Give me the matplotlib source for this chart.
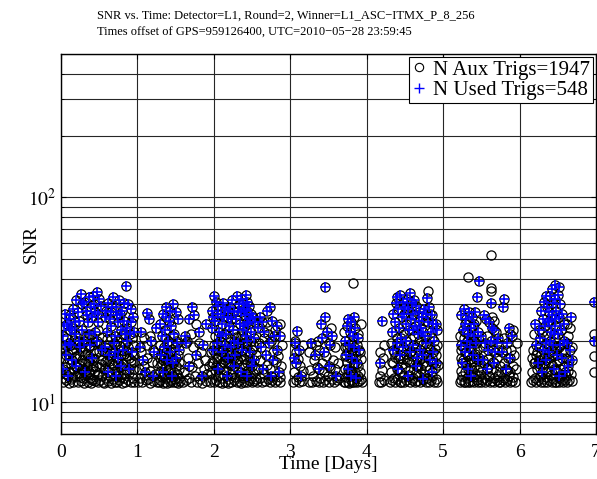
import matplotlib
matplotlib.use('Agg')
from matplotlib import pyplot as plt
from matplotlib.lines import Line2D
from matplotlib.ticker import NullFormatter

plt.rcParams['font.family'] = ['Liberation Serif', 'DejaVu Serif']
plt.rcParams['mathtext.fontset'] = 'stix'

title_1 = 'SNR vs. Time: Detector=L1, Round=2, Winner=L1_ASC\u2212ITMX_P_8_256'
title_2 = 'Times offset of GPS=959126400, UTC=2010\u221205\u221228 23:59:45'
n_aux = 1947
n_used = 548
x_ticks = [0, 1, 2, 3, 4, 5, 6, 7]

# triggers used by the veto round (day, snr)
used_trigs = [
    # 0.0 - 0.55
    (0.05, 27.0), (0.12, 26.5), (0.20, 31.5), (0.26, 33.8), (0.30, 31.0), (0.36, 32.5), (0.42, 33.0),
    (0.47, 34.5), (0.50, 32.0), (0.52, 29.5), (0.08, 24.0), (0.15, 23.0), (0.22, 27.5), (0.33, 28.0),
    (0.40, 26.0), (0.45, 27.5), (0.03, 21.0), (0.10, 19.5), (0.18, 21.5), (0.28, 22.5), (0.35, 24.5),
    (0.44, 22.0), (0.49, 24.5), (0.06, 17.0), (0.14, 16.0), (0.25, 18.5), (0.38, 19.0), (0.47, 20.0),
    (0.02, 14.5), (0.09, 13.5), (0.20, 15.0), (0.31, 14.0), (0.41, 16.5), (0.53, 18.0), (0.12, 22.5),
    (0.30, 20.0), (0.24, 25.0), (0.39, 29.0), (0.16, 28.5), (0.05, 19.0),
    (0.04, 23.5), (0.11, 25.5), (0.18, 24.5), (0.27, 30.0), (0.34, 26.5), (0.43, 30.0), (0.48, 27.0),
    (0.23, 20.0), (0.37, 21.5), (0.13, 19.0),
    # 0.55 - 0.97
    (0.58, 26.0), (0.62, 30.5), (0.65, 27.5), (0.68, 32.5), (0.72, 29.0), (0.76, 31.5), (0.80, 28.0),
    (0.85, 37.0), (0.88, 30.0), (0.92, 28.5), (0.94, 26.0), (0.60, 22.0), (0.66, 23.5), (0.70, 21.0),
    (0.74, 24.5), (0.78, 22.5), (0.83, 25.0), (0.87, 23.0), (0.90, 21.5), (0.57, 18.5), (0.63, 17.0),
    (0.69, 19.5), (0.75, 16.5), (0.81, 18.0), (0.86, 20.0), (0.93, 17.5), (0.61, 14.0), (0.72, 13.5),
    (0.79, 15.0), (0.89, 14.5), (0.95, 22.0), (0.64, 25.5),
    (0.59, 28.0), (0.67, 29.0), (0.73, 26.5), (0.77, 27.0), (0.82, 30.5), (0.91, 24.5), (0.71, 17.5),
    (0.84, 21.5),
    # 1.0 - 1.26
    (1.03, 18.5), (1.07, 16.0), (1.12, 27.4), (1.15, 25.5), (1.18, 20.0), (1.22, 17.5), (1.10, 14.0),
    (1.20, 13.5), (1.05, 22.0), (1.24, 23.0),
    # 1.28 - 1.56
    (1.30, 24.0), (1.34, 27.0), (1.38, 29.0), (1.42, 28.0), (1.46, 30.0), (1.50, 27.5), (1.53, 25.5),
    (1.32, 21.0), (1.36, 22.5), (1.40, 20.0), (1.44, 23.5), (1.48, 21.5), (1.52, 19.5), (1.31, 17.0),
    (1.35, 18.5), (1.39, 16.0), (1.43, 17.5), (1.47, 15.5), (1.51, 16.5), (1.55, 18.0), (1.33, 14.0),
    (1.45, 13.5), (1.41, 25.0), (1.37, 26.0),
    # 1.58 - 1.93
    (1.62, 21.0), (1.64, 19.5), (1.72, 29.0), (1.74, 26.5), (1.67, 25.5), (1.80, 22.0), (1.86, 19.0),
    (1.90, 24.0), (1.68, 15.0), (1.84, 13.5), (1.77, 17.0),
    # 1.95 - 2.56
    (1.97, 28.0), (2.00, 33.0), (2.03, 31.0), (2.06, 29.5), (2.09, 27.0), (2.12, 30.5), (2.15, 28.5),
    (2.18, 26.0), (2.21, 29.0), (2.24, 31.5), (2.27, 27.5), (2.30, 33.0), (2.33, 30.0), (2.36, 32.0),
    (2.39, 28.5), (2.42, 33.5), (2.44, 31.0), (2.46, 29.5), (2.48, 27.0), (2.51, 26.0), (2.54, 24.5),
    (1.98, 23.0), (2.02, 25.0), (2.07, 22.0), (2.11, 24.0), (2.16, 21.5), (2.20, 23.5), (2.25, 22.5),
    (2.29, 25.5), (2.34, 24.0), (2.38, 22.5), (2.41, 26.5), (2.45, 24.0), (2.49, 22.0), (2.53, 20.5),
    (1.99, 18.0), (2.04, 19.5), (2.10, 17.5), (2.14, 19.0), (2.19, 16.5), (2.23, 18.5), (2.28, 17.0),
    (2.32, 19.5), (2.37, 18.0), (2.43, 20.0), (2.47, 17.5), (2.52, 16.0), (2.05, 14.5), (2.17, 13.5),
    (2.26, 15.0), (2.35, 14.0), (2.44, 13.5), (2.50, 15.0), (2.40, 23.5), (2.42, 21.0), (2.44, 28.0),
    (1.99, 26.0), (2.05, 27.0), (2.13, 26.0), (2.19, 28.0), (2.22, 25.5), (2.31, 28.0), (2.35, 27.5),
    (2.38, 30.0), (2.43, 24.5), (2.47, 25.5), (2.26, 20.0), (2.09, 21.0),
    # 2.56 - 2.9
    (2.58, 23.0), (2.60, 26.0), (2.63, 24.5), (2.66, 22.0), (2.70, 28.0), (2.73, 29.0), (2.76, 25.0),
    (2.79, 21.0), (2.83, 23.5), (2.86, 21.0), (2.62, 18.5), (2.68, 17.0), (2.72, 19.5), (2.78, 16.0),
    (2.82, 18.0), (2.64, 14.5), (2.75, 13.5), (2.85, 14.0),
    # 3.03 - 3.19
    (3.09, 22.3), (3.06, 19.5), (3.12, 18.0), (3.08, 15.5), (3.14, 13.5), (3.05, 16.5),
    # 3.23 - 3.65
    (3.27, 19.5), (3.32, 17.0), (3.40, 24.0), (3.45, 26.0), (3.46, 36.4), (3.42, 20.5), (3.48, 22.0),
    (3.52, 19.0), (3.55, 21.0), (3.38, 14.5), (3.50, 15.0), (3.60, 13.5), (3.44, 17.5),
    # 3.69 - 3.95
    (3.71, 20.0), (3.74, 23.5), (3.76, 25.5), (3.78, 22.0), (3.80, 24.5), (3.82, 21.0), (3.85, 23.0),
    (3.88, 20.5), (3.90, 18.0), (3.73, 17.0), (3.77, 19.0), (3.81, 16.5), (3.84, 18.5), (3.87, 15.5),
    (3.79, 13.5), (3.75, 14.5), (3.83, 26.0), (3.86, 13.2),
    # 4.13 - 4.27
    (4.20, 25.0), (4.18, 15.5),
    # 4.3 - 4.93
    (4.35, 27.0), (4.38, 30.5), (4.40, 32.5), (4.44, 33.5), (4.47, 31.0), (4.50, 29.0), (4.53, 32.0),
    (4.56, 34.0), (4.59, 30.5), (4.62, 31.5), (4.65, 29.5), (4.68, 27.5), (4.72, 26.0), (4.75, 28.5),
    (4.79, 32.3), (4.82, 29.0), (4.86, 26.5), (4.90, 24.0), (4.33, 22.0), (4.37, 24.5), (4.42, 23.0),
    (4.46, 26.0), (4.51, 24.0), (4.55, 22.5), (4.58, 25.5), (4.63, 23.5), (4.67, 21.5), (4.71, 23.0),
    (4.76, 21.0), (4.80, 24.5), (4.84, 22.0), (4.88, 20.0), (4.92, 22.5), (4.34, 18.0), (4.39, 19.5),
    (4.43, 17.0), (4.48, 18.5), (4.52, 20.0), (4.57, 17.5), (4.61, 19.0), (4.66, 16.5), (4.70, 18.0),
    (4.74, 17.0), (4.78, 19.5), (4.83, 16.0), (4.87, 17.5), (4.91, 15.5), (4.41, 14.5), (4.54, 13.5),
    (4.64, 15.0), (4.73, 13.0), (4.85, 14.0),
    (4.41, 28.5), (4.49, 27.0), (4.54, 28.5), (4.61, 27.0), (4.69, 25.0), (4.77, 27.0), (4.45, 20.5),
    (4.60, 22.5), (4.73, 22.0), (4.87, 24.0),
    # 5.22 - 5.48
    (5.47, 39.0), (5.44, 32.8), (5.24, 26.5), (5.27, 28.5), (5.30, 25.5), (5.34, 27.5), (5.38, 26.0),
    (5.41, 24.0), (5.26, 22.5), (5.29, 24.0), (5.33, 21.5), (5.36, 23.0), (5.40, 21.0), (5.45, 22.0),
    (5.23, 19.0), (5.28, 17.5), (5.31, 20.0), (5.35, 18.5), (5.39, 17.0), (5.43, 19.5), (5.25, 15.5),
    (5.32, 14.5), (5.37, 13.5), (5.46, 16.0), (5.42, 27.5),
    # 5.48 - 5.74
    (5.62, 30.4), (5.53, 26.5), (5.56, 25.5), (5.60, 24.5), (5.64, 23.0), (5.67, 22.5), (5.50, 21.0),
    (5.55, 19.5), (5.59, 18.0), (5.63, 20.0), (5.68, 17.5), (5.70, 19.5), (5.52, 16.0), (5.58, 14.5),
    (5.66, 15.5), (5.72, 20.5),
    # 5.74 - 5.97
    (5.80, 32.0), (5.78, 29.0), (5.86, 23.0), (5.90, 21.0), (5.84, 19.5), (5.77, 17.5), (5.88, 16.5),
    (5.82, 14.5),
    # 6.14 - 6.70
    (6.47, 37.5), (6.52, 36.5), (6.43, 35.5), (6.40, 33.0), (6.50, 33.5), (6.32, 31.0), (6.53, 30.0),
    (6.36, 29.0), (6.44, 30.5), (6.55, 27.0), (6.67, 26.0), (6.38, 27.5), (6.42, 26.5), (6.30, 25.5),
    (6.48, 28.0), (6.20, 24.0), (6.25, 22.5), (6.33, 23.5), (6.37, 24.5), (6.41, 22.0), (6.46, 23.5),
    (6.50, 21.5), (6.54, 22.5), (6.58, 20.0), (6.62, 19.5), (6.66, 18.0), (6.22, 19.0), (6.27, 20.5),
    (6.31, 18.0), (6.35, 19.5), (6.39, 17.5), (6.44, 19.0), (6.49, 17.0), (6.56, 16.5), (6.63, 15.0),
    (6.68, 16.0), (6.24, 15.5), (6.29, 14.0), (6.34, 16.0), (6.45, 14.5), (6.52, 13.5), (6.60, 14.0),
    (6.40, 20.0), (6.47, 25.5),
    (6.35, 33.0), (6.46, 32.0), (6.39, 25.0), (6.51, 26.0), (6.58, 24.0), (6.28, 28.0), (6.45, 21.5),
    (6.53, 19.0),
    # right edge
    (6.98, 30.7), (6.98, 20.0),
]

# aux triggers that were not used (day, snr)
other_trigs = [
    # 0.0 - 0.55
    (0.02, 12.5), (0.04, 13.2), (0.05, 14.8), (0.07, 12.8), (0.08, 15.6), (0.10, 12.4), (0.11, 14.1),
    (0.13, 13.0), (0.14, 17.5), (0.16, 12.6), (0.17, 14.6), (0.19, 13.4), (0.20, 16.8), (0.22, 12.5),
    (0.23, 13.9), (0.24, 15.2), (0.26, 12.7), (0.27, 14.3), (0.28, 16.0), (0.29, 13.1), (0.30, 12.4),
    (0.32, 15.5), (0.33, 13.6), (0.34, 17.2), (0.35, 12.6), (0.36, 14.0), (0.37, 15.8), (0.38, 13.2),
    (0.39, 12.4), (0.40, 14.6), (0.42, 13.0), (0.43, 16.2), (0.44, 12.7), (0.45, 14.2), (0.46, 15.0),
    (0.48, 12.5), (0.49, 13.7), (0.50, 17.8), (0.51, 12.9), (0.52, 15.3), (0.54, 13.4), (0.55, 12.6),
    (0.03, 18.5), (0.06, 20.5), (0.09, 17.2), (0.12, 19.0), (0.15, 18.2), (0.18, 16.5), (0.21, 19.8),
    (0.25, 21.5), (0.27, 17.8), (0.29, 19.5), (0.31, 17.0), (0.33, 21.0), (0.36, 18.8), (0.38, 16.4),
    (0.41, 20.5), (0.43, 18.0), (0.46, 17.4), (0.48, 22.5), (0.51, 19.2), (0.53, 16.0), (0.07, 13.8),
    (0.19, 14.9), (0.26, 13.3), (0.34, 14.7), (0.41, 12.9), (0.47, 13.6), (0.23, 17.0), (0.11, 16.3),
    (0.04, 16.5), (0.08, 18.8), (0.13, 15.4), (0.17, 20.2), (0.21, 14.8), (0.24, 19.3), (0.28, 14.6),
    (0.32, 18.4), (0.35, 15.9), (0.39, 21.2), (0.42, 15.0), (0.45, 19.6), (0.50, 14.9), (0.53, 20.8),
    (0.15, 13.3), (0.37, 13.7),
    # 0.55 - 0.97
    (0.56, 12.4), (0.57, 14.5), (0.59, 13.1), (0.60, 16.0), (0.62, 12.7), (0.63, 14.8), (0.64, 13.5),
    (0.66, 12.4), (0.67, 15.5), (0.68, 13.0), (0.70, 12.6), (0.71, 14.2), (0.72, 16.4), (0.73, 12.5),
    (0.74, 13.6), (0.76, 12.8), (0.77, 14.9), (0.78, 13.3), (0.80, 12.4), (0.81, 15.3), (0.82, 13.8),
    (0.84, 12.6), (0.85, 14.4), (0.86, 16.8), (0.88, 12.9), (0.89, 13.9), (0.91, 12.5), (0.92, 15.6),
    (0.94, 13.2), (0.95, 12.6), (0.96, 14.6), (0.58, 17.5), (0.61, 19.0), (0.65, 20.5), (0.67, 18.0),
    (0.71, 17.5), (0.73, 19.8), (0.77, 18.8), (0.79, 20.8), (0.82, 17.2), (0.84, 19.3), (0.88, 18.5),
    (0.91, 16.0), (0.94, 19.0), (0.96, 17.0), (0.69, 15.2), (0.75, 14.0), (0.83, 13.1),
    (0.57, 15.8), (0.60, 20.3), (0.63, 15.9), (0.66, 16.8), (0.70, 19.0), (0.74, 15.7), (0.78, 17.0),
    (0.81, 21.5), (0.85, 17.8), (0.89, 16.5), (0.93, 20.5), (0.96, 15.8),
    # 1.0 - 1.26
    (1.01, 12.6), (1.02, 14.5), (1.04, 13.2), (1.06, 12.5), (1.08, 15.0), (1.09, 13.6), (1.11, 12.8),
    (1.13, 16.5), (1.14, 13.0), (1.16, 12.4), (1.17, 14.2), (1.19, 15.8), (1.21, 12.7), (1.23, 13.8),
    (1.25, 12.5), (1.05, 17.5), (1.13, 19.0), (1.20, 18.0), (1.08, 20.5), (1.17, 21.0), (1.26, 15.5),
    # 1.28 - 1.56
    (1.28, 12.5), (1.29, 14.0), (1.30, 12.8), (1.31, 15.2), (1.32, 13.3), (1.33, 12.4), (1.34, 16.0),
    (1.35, 13.7), (1.36, 12.6), (1.37, 14.8), (1.38, 13.1), (1.39, 12.4), (1.40, 15.5), (1.41, 13.9),
    (1.42, 12.6), (1.43, 14.5), (1.44, 12.9), (1.45, 16.3), (1.46, 13.4), (1.47, 12.5), (1.48, 14.1),
    (1.49, 13.0), (1.50, 15.0), (1.51, 12.6), (1.52, 13.8), (1.53, 12.4), (1.54, 14.6), (1.55, 13.2),
    (1.56, 12.7), (1.30, 19.0), (1.33, 18.0), (1.36, 20.5), (1.39, 19.2), (1.42, 17.8), (1.45, 19.5),
    (1.49, 18.5), (1.53, 17.0), (1.38, 17.5), (1.47, 21.0),
    (1.29, 16.5), (1.32, 15.6), (1.35, 16.8), (1.40, 17.0), (1.44, 15.8), (1.48, 16.0), (1.51, 20.0),
    (1.55, 15.8),
    # 1.58 - 1.93
    (1.59, 12.5), (1.61, 14.0), (1.63, 12.8), (1.66, 16.5), (1.68, 13.2), (1.70, 12.5), (1.72, 14.8),
    (1.73, 18.5), (1.75, 13.5), (1.76, 24.0), (1.78, 12.6), (1.79, 15.5), (1.82, 13.0), (1.83, 17.5),
    (1.85, 12.4), (1.87, 14.5), (1.88, 16.0), (1.90, 12.7), (1.91, 13.8), (1.93, 15.0), (1.65, 20.0),
    (1.81, 19.5), (1.70, 21.5),
    # 1.95 - 2.56
    (1.95, 12.5), (1.96, 14.0), (1.98, 13.0), (1.99, 15.5), (2.00, 12.6), (2.01, 14.3), (2.03, 12.8),
    (2.04, 16.2), (2.06, 13.4), (2.07, 12.5), (2.08, 14.9), (2.10, 13.1), (2.11, 12.4), (2.12, 15.8),
    (2.13, 13.6), (2.15, 12.6), (2.16, 14.4), (2.18, 13.0), (2.19, 12.4), (2.20, 15.3), (2.22, 13.8),
    (2.23, 12.6), (2.24, 14.6), (2.26, 12.9), (2.27, 16.5), (2.28, 13.3), (2.30, 12.5), (2.31, 14.2),
    (2.32, 15.9), (2.33, 12.7), (2.34, 13.5), (2.36, 12.4), (2.37, 14.8), (2.38, 13.1), (2.40, 12.6),
    (2.41, 15.2), (2.42, 13.7), (2.43, 12.5), (2.45, 14.3), (2.46, 12.8), (2.47, 15.9), (2.48, 13.2),
    (2.50, 12.5), (2.51, 13.9), (2.53, 12.7), (2.54, 14.5), (2.55, 13.0), (1.96, 17.5), (2.00, 19.0),
    (2.02, 21.0), (2.05, 18.0), (2.08, 20.0), (2.09, 17.0), (2.13, 21.5), (2.17, 18.5), (2.21, 20.5),
    (2.22, 17.2), (2.25, 19.0), (2.29, 20.8), (2.31, 17.8), (2.35, 21.0), (2.39, 19.5), (2.41, 17.5),
    (2.44, 18.8), (2.48, 19.8), (2.50, 18.0), (2.55, 17.0), (2.14, 16.0), (2.24, 16.5), (2.39, 16.2),
    (1.97, 15.8), (2.01, 17.3), (2.03, 15.0), (2.06, 16.6), (2.09, 15.3), (2.12, 18.0), (2.15, 16.7),
    (2.18, 15.6), (2.20, 17.8), (2.23, 15.2), (2.27, 18.6), (2.30, 16.3), (2.33, 18.3), (2.36, 16.8),
    (2.40, 20.5), (2.43, 15.6), (2.46, 16.8), (2.49, 15.5), (2.52, 18.8), (2.26, 21.5),
    # 2.56 - 2.9
    (2.57, 12.6), (2.58, 14.5), (2.60, 13.2), (2.61, 16.0), (2.63, 12.5), (2.65, 13.8), (2.67, 12.7),
    (2.69, 15.2), (2.71, 13.0), (2.73, 12.5), (2.74, 14.6), (2.76, 12.8), (2.77, 17.5), (2.79, 13.4),
    (2.80, 12.6), (2.81, 15.8), (2.83, 12.9), (2.84, 16.8), (2.86, 13.3), (2.87, 12.5), (2.88, 15.0),
    (2.89, 19.0), (2.59, 19.5), (2.66, 20.5), (2.71, 21.5), (2.75, 20.0), (2.80, 22.5), (2.87, 24.0),
    (2.69, 24.5),
    # 3.03 - 3.19
    (3.04, 12.5), (3.05, 14.0), (3.07, 12.8), (3.08, 17.5), (3.10, 13.3), (3.11, 12.5), (3.13, 15.0),
    (3.06, 20.0), (3.15, 12.7), (3.17, 14.2), (3.10, 16.3), (3.16, 19.0),
    # 3.23 - 3.65
    (3.24, 12.6), (3.26, 14.3), (3.28, 12.5), (3.30, 13.5), (3.31, 16.0), (3.33, 12.7), (3.35, 14.8),
    (3.37, 12.5), (3.38, 18.0), (3.39, 13.2), (3.41, 15.5), (3.43, 12.6), (3.44, 14.0), (3.46, 12.8),
    (3.47, 16.8), (3.49, 13.4), (3.51, 12.5), (3.52, 14.7), (3.54, 13.0), (3.56, 16.0), (3.57, 12.6),
    (3.59, 14.5), (3.61, 12.8), (3.62, 15.5), (3.64, 13.2), (3.36, 20.0), (3.50, 19.5), (3.58, 18.5),
    (3.25, 17.5), (3.33, 19.0), (3.53, 23.0),
    # 3.69 - 3.95
    (3.82, 38.0), (3.70, 12.6), (3.71, 14.5), (3.72, 12.5), (3.73, 13.3), (3.74, 15.8), (3.75, 12.6),
    (3.76, 13.9), (3.77, 12.4), (3.78, 16.5), (3.79, 12.8), (3.80, 14.2), (3.81, 12.5), (3.82, 13.6),
    (3.83, 15.3), (3.84, 12.6), (3.85, 14.0), (3.86, 16.8), (3.87, 12.5), (3.88, 13.5), (3.89, 15.0),
    (3.90, 12.7), (3.91, 14.0), (3.92, 16.2), (3.93, 13.0), (3.94, 12.5), (3.72, 18.5), (3.76, 17.5),
    (3.80, 19.5), (3.85, 17.8), (3.89, 21.5), (3.92, 24.0), (3.70, 22.0),
    (3.71, 16.8), (3.74, 18.5), (3.78, 14.0), (3.81, 18.0), (3.84, 15.6), (3.87, 19.0), (3.91, 17.6),
    # 4.13 - 4.27
    (4.16, 12.6), (4.18, 13.5), (4.19, 12.5), (4.20, 14.3), (4.21, 16.5), (4.22, 12.8), (4.17, 17.5),
    (4.23, 19.0),
    # 4.3 - 4.93
    (4.80, 35.0), (4.31, 12.5), (4.32, 14.0), (4.33, 12.8), (4.35, 15.5), (4.36, 13.2), (4.37, 12.5),
    (4.39, 14.6), (4.40, 13.0), (4.41, 16.3), (4.43, 12.6), (4.44, 14.1), (4.45, 12.5), (4.46, 15.4),
    (4.48, 13.3), (4.49, 12.6), (4.50, 14.8), (4.52, 12.9), (4.53, 16.0), (4.55, 13.6), (4.56, 12.5),
    (4.57, 14.4), (4.59, 12.8), (4.60, 15.7), (4.61, 13.1), (4.63, 12.5), (4.64, 13.9), (4.66, 12.7),
    (4.67, 15.1), (4.68, 13.4), (4.70, 12.5), (4.71, 14.5), (4.72, 16.6), (4.74, 12.8), (4.75, 13.7),
    (4.77, 12.5), (4.78, 15.0), (4.79, 13.2), (4.81, 12.6), (4.82, 14.3), (4.84, 12.9), (4.85, 16.4),
    (4.86, 13.5), (4.88, 12.5), (4.89, 14.7), (4.90, 13.0), (4.92, 12.6), (4.93, 15.2), (4.32, 19.5),
    (4.36, 17.5), (4.40, 20.5), (4.45, 18.0), (4.49, 21.5), (4.54, 19.0), (4.58, 17.8), (4.62, 21.0),
    (4.65, 18.5), (4.69, 20.0), (4.73, 19.2), (4.77, 17.5), (4.81, 18.8), (4.86, 20.5), (4.89, 18.2),
    (4.92, 19.0), (4.76, 25.0), (4.83, 27.0), (4.60, 26.5), (4.47, 22.0),
    (4.33, 15.8), (4.37, 16.6), (4.41, 18.6), (4.44, 16.5), (4.48, 16.2), (4.51, 17.2), (4.55, 15.8),
    (4.59, 16.8), (4.63, 17.6), (4.66, 15.0), (4.70, 16.2), (4.74, 15.5), (4.79, 16.8), (4.83, 18.2),
    (4.87, 15.6), (4.91, 17.0),
    # 5.22 - 5.48
    (5.32, 40.8), (5.22, 12.5), (5.23, 14.2), (5.24, 12.8), (5.25, 13.4), (5.26, 16.0), (5.27, 12.6),
    (5.28, 14.0), (5.29, 12.5), (5.30, 15.2), (5.31, 13.1), (5.32, 12.6), (5.33, 16.8), (5.34, 13.6),
    (5.35, 12.5), (5.36, 14.6), (5.37, 15.8), (5.38, 12.7), (5.39, 13.3), (5.40, 14.9), (5.41, 12.5),
    (5.42, 13.8), (5.43, 16.3), (5.44, 12.8), (5.45, 14.3), (5.46, 12.5), (5.47, 13.5), (5.48, 15.0),
    (5.24, 18.0), (5.27, 20.5), (5.30, 17.5), (5.34, 19.5), (5.37, 18.2), (5.41, 20.0), (5.44, 18.0),
    (5.29, 22.0), (5.36, 21.0), (5.39, 23.5), (5.43, 25.0), (5.22, 21.0),
    (5.23, 16.5), (5.26, 18.6), (5.29, 15.8), (5.32, 17.0), (5.35, 16.2), (5.38, 19.5), (5.42, 17.2),
    (5.45, 16.6),
    # 5.48 - 5.74
    (5.63, 52.5), (5.62, 36.0), (5.62, 34.8), (5.49, 12.5), (5.50, 14.0), (5.51, 12.8), (5.53, 15.5),
    (5.54, 13.2), (5.55, 12.5), (5.57, 14.7), (5.58, 12.8), (5.59, 16.2), (5.60, 13.4), (5.61, 12.5),
    (5.62, 14.5), (5.64, 12.7), (5.65, 15.8), (5.66, 13.1), (5.67, 12.5), (5.69, 14.2), (5.70, 12.8),
    (5.71, 16.5), (5.72, 13.5), (5.73, 12.6), (5.74, 15.0), (5.52, 18.5), (5.57, 21.0), (5.61, 19.0),
    (5.65, 18.0), (5.69, 22.0), (5.73, 18.0), (5.64, 26.0), (5.66, 25.0),
    # 5.74 - 5.97
    (5.75, 12.5), (5.76, 14.0), (5.78, 12.8), (5.79, 15.6), (5.80, 13.2), (5.81, 12.5), (5.83, 14.4),
    (5.84, 12.8), (5.85, 16.5), (5.86, 13.5), (5.87, 12.5), (5.88, 14.0), (5.89, 18.0), (5.90, 12.7),
    (5.91, 15.0), (5.92, 13.3), (5.93, 17.0), (5.94, 12.6), (5.95, 14.5), (5.96, 19.5), (5.87, 21.5),
    (5.92, 22.5), (5.82, 18.0), (5.79, 20.5),
    # 6.14 - 6.70
    (6.15, 12.5), (6.16, 14.0), (6.18, 12.8), (6.19, 15.5), (6.20, 13.2), (6.22, 12.5), (6.23, 14.6),
    (6.24, 12.8), (6.26, 16.0), (6.27, 13.4), (6.28, 12.5), (6.30, 14.8), (6.31, 13.0), (6.32, 12.5),
    (6.33, 15.5), (6.35, 13.3), (6.36, 12.6), (6.37, 14.2), (6.38, 16.5), (6.39, 12.8), (6.41, 13.6),
    (6.42, 12.5), (6.43, 15.2), (6.44, 13.0), (6.46, 12.6), (6.47, 14.4), (6.48, 12.5), (6.49, 15.8),
    (6.51, 13.2), (6.52, 12.6), (6.53, 14.6), (6.55, 12.8), (6.56, 13.6), (6.57, 12.5), (6.58, 15.0),
    (6.59, 12.8), (6.61, 13.5), (6.62, 12.6), (6.64, 14.2), (6.65, 12.9), (6.67, 13.8), (6.69, 12.7),
    (6.17, 18.0), (6.21, 17.0), (6.25, 18.5), (6.28, 17.2), (6.34, 21.0), (6.38, 19.0), (6.42, 17.8),
    (6.46, 20.5), (6.51, 18.5), (6.55, 19.2), (6.59, 17.5), (6.64, 21.0), (6.66, 23.0), (6.62, 24.0),
    (6.19, 21.5), (6.29, 22.0),
    (6.16, 16.5), (6.20, 15.8), (6.23, 17.6), (6.27, 15.4), (6.31, 16.4), (6.34, 14.0), (6.37, 17.2),
    (6.40, 15.6), (6.44, 16.8), (6.48, 18.2), (6.52, 16.0), (6.57, 17.8), (6.61, 16.4), (6.65, 16.0),
    (6.68, 18.5),
    # right edge
    (6.98, 21.5), (6.98, 16.8), (6.98, 14.0),
]

used_t, used_snr = zip(*used_trigs)
other_t, other_snr = zip(*other_trigs)
aux_t = list(other_t) + list(used_t)
aux_snr = list(other_snr) + list(used_snr)

fig = plt.figure(figsize=(5.97, 4.79), dpi=100)
ax = fig.add_axes([61 / 597, 1 - 434 / 479, 535 / 597, 380 / 479])

ax.plot(aux_t, aux_snr, 'o', ms=6.6, mfc='none', mec='k', mew=0.9)
ax.plot(used_t, used_snr, '+', ms=7, color='b', mew=1.2)

ax.set_yscale('log')
ax.set_xlim(0, 7)
ax.set_ylim(7, 500)
ax.set_xticks(x_ticks)
ax.set_xticklabels([str(v) for v in x_ticks])
ax.set_yticks([10, 100])
ax.set_yticklabels(['$10^1$', '$10^2$'])
ax.yaxis.set_minor_formatter(NullFormatter())
ax.tick_params(which='both', direction='in', labelsize=14, top=True, right=True)
ax.tick_params(axis='x', pad=7)
ax.set_axisbelow(True)
ax.grid(True, which='major', axis='both', color='0.15', lw=0.8)
ax.grid(True, which='minor', axis='y', color='0.15', lw=0.8)
for s in ax.spines.values():
    s.set_linewidth(1.0)

ax.set_xlabel('Time [Days]', fontsize=14)
ax.xaxis.set_label_coords(0.5, -0.058)
ax.set_ylabel('SNR', fontsize=14)
ax.yaxis.set_label_coords(-0.04, 0.5)

handles = [Line2D([], [], ls='none', marker='o', ms=6, mfc='none', mec='k', mew=0.8),
           Line2D([], [], ls='none', marker='+', ms=6.5, color='b', mew=1.0)]
leg = ax.legend(handles, ['N Aux Trigs=%d' % n_aux, 'N Used Trigs=%d' % n_used],
                loc='upper right', bbox_to_anchor=(1 - 3 / 535, 1 - 3 / 380), borderaxespad=0,
                fontsize=15, fancybox=False, framealpha=1, edgecolor='k', handlelength=0.7,
                handletextpad=0.3, borderpad=0.15, labelspacing=0.05)
leg.get_frame().set_linewidth(0.8)

fig.text(97 / 597, 1 - 15.5 / 479, title_1, fontsize=9, va='center', ha='left')
fig.text(97 / 597, 1 - 32.5 / 479, title_2, fontsize=9, va='center', ha='left')

fig.savefig('out.png', dpi=100)
